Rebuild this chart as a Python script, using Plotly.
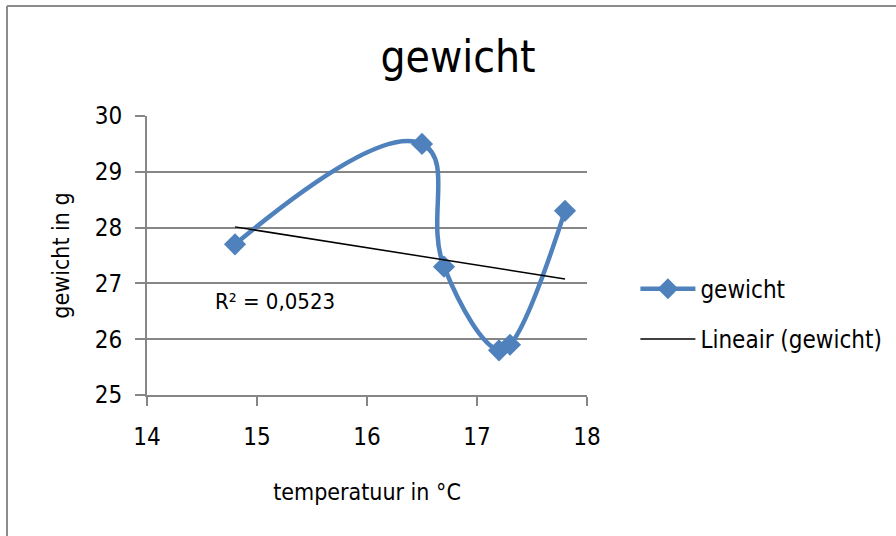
import numpy as np
import plotly.graph_objects as go

temperatuur = [14.8, 16.5, 16.7, 17.2, 17.3, 17.8]
gewicht = [27.7, 29.5, 27.3, 25.8, 25.9, 28.3]
x_ticks = [14, 15, 16, 17, 18]
y_ticks = [25, 26, 27, 28, 29, 30]

xs = np.array(temperatuur)
ys = np.array(gewicht)
slope, intercept = np.polyfit(xs, ys, 1)
pred = slope * xs + intercept
r2 = 1 - np.sum((ys - pred) ** 2) / np.sum((ys - ys.mean()) ** 2)
trend_x = [xs.min(), xs.max()]
trend_y = [slope * v + intercept for v in trend_x]

FONT = "Liberation Sans Narrow, Arial Narrow, DejaVu Sans Condensed, Liberation Sans, sans-serif"
BLUE = "#4F81BD"
GRAY = "#868686"

fig = go.Figure()
fig.add_trace(go.Scatter(
    x=temperatuur, y=gewicht, mode="lines+markers", name="gewicht",
    line=dict(color=BLUE, width=4.5, shape="spline", smoothing=1.3),
    marker=dict(symbol="diamond", size=17, color=BLUE),
    legendgroup="a",
))
fig.add_trace(go.Scatter(
    x=trend_x, y=trend_y, mode="lines", name="Lineair (gewicht)",
    line=dict(color="black", width=1.5),
    legendgroup="b",
))

r2_text = "R² = " + f"{r2:.4f}".replace(".", ",")
fig.add_annotation(x=14.6, y=26.67, xref="x", yref="y", text=r2_text,
                   showarrow=False, xanchor="left", yanchor="middle",
                   font=dict(family=FONT, size=22, color="black"))

# outer chart border (left and top edges)
fig.add_shape(type="line", xref="paper", yref="paper",
              x0=(7 - 147) / 440, x1=(7 - 147) / 440, y0=(395 - 6) / 279, y1=(395 - 540) / 279,
              line=dict(color="#8c8c8c", width=2))
fig.add_shape(type="line", xref="paper", yref="paper",
              x0=(7 - 147) / 440, x1=(900 - 147) / 440, y0=(395 - 6) / 279, y1=(395 - 6) / 279,
              line=dict(color="#8c8c8c", width=2))

fig.update_layout(
    width=896, height=536,
    margin=dict(l=147, r=309, t=116, b=141, autoexpand=False),
    paper_bgcolor="white", plot_bgcolor="white",
    font=dict(family=FONT, size=24, color="black"),
    title=dict(text="gewicht", x=(458) / 896, xanchor="center", y=1 - 57 / 536, yanchor="middle",
               font=dict(family=FONT, size=44, color="black")),
    showlegend=True,
    legend=dict(x=1.11, y=0.46, xanchor="left", yanchor="top", tracegroupgap=16,
                itemwidth=55, font=dict(family=FONT, size=24, color="black"),
                bgcolor="rgba(0,0,0,0)"),
    xaxis=dict(range=[14, 18], tickvals=x_ticks, showgrid=False, zeroline=False,
               showline=True, linecolor=GRAY, linewidth=2, ticks="outside", ticklen=9,
               tickcolor=GRAY, tickwidth=2, ticklabelstandoff=10,
               tickfont=dict(family=FONT, size=24),
               title=dict(text="temperatuur in °C", font=dict(family=FONT, size=23), standoff=34)),
    yaxis=dict(range=[25, 30], tickvals=y_ticks, showgrid=True, gridcolor=GRAY, gridwidth=2,
               zeroline=False, showline=True, linecolor=GRAY, linewidth=2, ticks="outside",
               ticklen=10, tickcolor=GRAY, tickwidth=2, ticklabelstandoff=8,
               tickfont=dict(family=FONT, size=24),
               title=dict(text="gewicht in g", font=dict(family=FONT, size=23), standoff=19)),
)

fig.write_html("out.html")
